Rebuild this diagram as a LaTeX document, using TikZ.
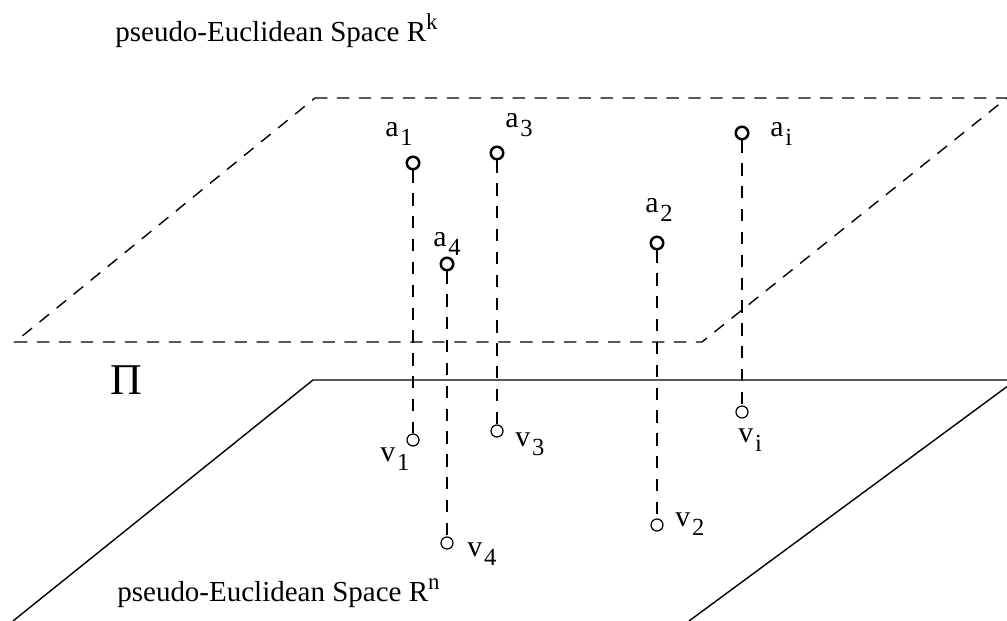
\documentclass[tikz,border=0pt]{standalone}
\usepackage{fontspec}
\setmainfont{Liberation Serif}
\usepackage{tikz}

\newcommand{\ptlab}[2]{#1\kern1pt\raisebox{-5pt}{\fontsize{14}{14}\selectfont #2}}

\begin{document}
\begin{tikzpicture}[
    upt/.style={circle, draw, line width=1.4pt, minimum size=0.25cm, inner sep=0pt},
    lpt/.style={circle, draw, line width=0.7pt, minimum size=0.24cm, inner sep=0pt},
    drop/.style={line width=0.6pt, dash pattern=on 7pt off 6pt},
    plane/.style={line width=0.8pt},
    lab/.style={anchor=base west, inner sep=0pt, font=\fontsize{17}{20}\selectfont},
    title/.style={anchor=base west, inner sep=0pt, font=\fontsize{16.5}{20}\selectfont}]
    \useasboundingbox (0,0) rectangle (20.14,12.42);
    \clip (0,0) rectangle (20.14,12.42);

    % Upper plane (dashed)
    \draw[plane, dash pattern=on 7pt off 5.5pt] (6.30,10.46) -- (20.14,10.46) -- (14.04,5.58) -- (0.30,5.58) -- cycle;

    % Lower plane
    \draw[plane] (0.26,0) -- (6.26,4.82) -- (20.32,4.82);
    \draw[plane] (20.32,4.82) -- (13.78,0);

    \node[title] (rk) at (2.30,11.58) {pseudo-Euclidean Space R\raisebox{7pt}{\fontsize{13}{13}\selectfont k}};
    \node[title] (rn) at (2.34,0.38) {pseudo-Euclidean Space R\raisebox{7pt}{\fontsize{13}{13}\selectfont n}};
    \node[anchor=base west, inner sep=0pt, font=\fontsize{25}{30}\selectfont] (pi) at (2.20,4.52) {Π};

    % Points in R^k
    \node[upt] (a1) at (8.26,9.16) {};
    \node[upt] (a3) at (9.94,9.36) {};
    \node[upt] (ai) at (14.84,9.76) {};
    \node[upt] (a2) at (13.14,7.56) {};
    \node[upt] (a4) at (8.94,7.14) {};

    % Points in R^n
    \node[lpt] (v1) at (8.26,3.62) {};
    \node[lpt] (v3) at (9.94,3.80) {};
    \node[lpt] (vi) at (14.84,4.18) {};
    \node[lpt] (v2) at (13.14,1.92) {};
    \node[lpt] (v4) at (8.94,1.56) {};

    % Projections
    \draw[drop] (a1) -- (v1);
    \draw[drop] (a3) -- (v3);
    \draw[drop] (ai) -- (vi);
    \draw[drop] (a2) -- (v2);
    \draw[drop] (a4) -- (v4);

    \node[lab] (a1-lab) at (7.70,9.68) {\ptlab{a}{1}};
    \node[lab] (a3-lab) at (10.10,9.86) {\ptlab{a}{3}};
    \node[lab] (ai-lab) at (15.40,9.68) {\ptlab{a}{i}};
    \node[lab] (a2-lab) at (12.90,8.16) {\ptlab{a}{2}};
    \node[lab] (a4-lab) at (8.66,7.48) {\ptlab{a}{4}};

    \node[lab] (v1-lab) at (7.60,3.18) {\ptlab{v}{1}};
    \node[lab] (v3-lab) at (10.30,3.48) {\ptlab{v}{3}};
    \node[lab] (vi-lab) at (14.76,3.56) {\ptlab{v}{i}};
    \node[lab] (v2-lab) at (13.50,1.88) {\ptlab{v}{2}};
    \node[lab] (v4-lab) at (9.34,1.28) {\ptlab{v}{4}};
\end{tikzpicture}
\end{document}
